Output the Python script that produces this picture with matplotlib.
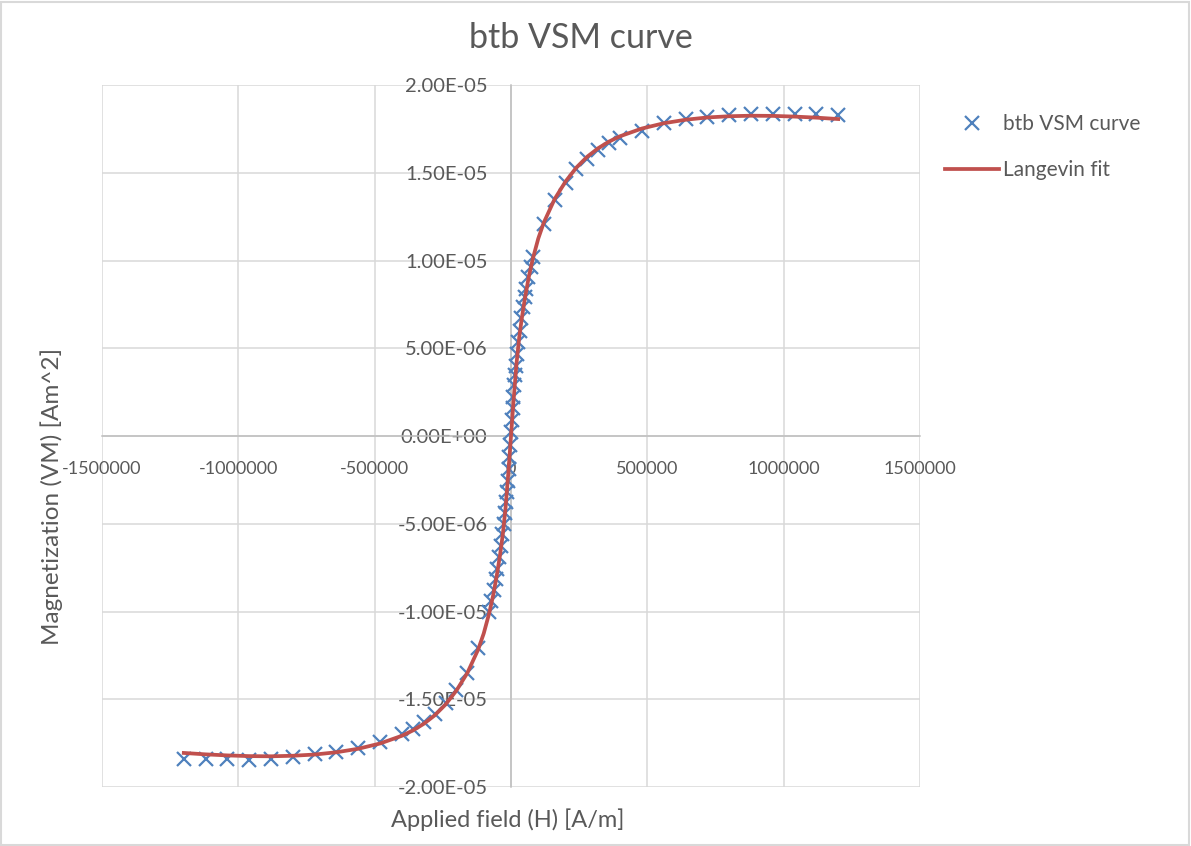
import matplotlib
matplotlib.use("Agg")
import matplotlib.pyplot as plt
from matplotlib.patches import Rectangle

plt.rcParams['font.family'] = ['Lato', 'DejaVu Sans']

# measured VSM points: applied field [A/m] and magnetization [Am^2]
field = [-1200000, -1120000, -1040000, -960000, -880000, -800000, -720000,
         -640000, -560000, -480000, -400000, -360000, -320000, -280000,
         -240000, -200000, -160000, -120000, -80000,
         -72000, -64000, -56000, -50000, -44000, -38000, -32000, -27000,
         -22000, -18000, -15000, -12000, -9000, -6000, -3000, 0,
         3000, 6000, 9000, 12000, 15000, 18000, 22000, 27000, 32000,
         38000, 44000, 50000, 56000, 64000, 72000,
         80000, 120000, 160000, 200000, 240000, 280000, 320000, 360000,
         400000, 480000, 560000, 640000, 720000, 800000, 880000, 960000,
         1040000, 1120000, 1200000]
moment = [-1.842e-5, -1.840e-5, -1.842e-5, -1.845e-5, -1.840e-5, -1.830e-5,
          -1.813e-5, -1.800e-5, -1.775e-5, -1.745e-5, -1.700e-5, -1.670e-5,
          -1.630e-5, -1.585e-5, -1.520e-5, -1.445e-5, -1.350e-5, -1.210e-5,
          -1.000e-5,
          -0.940e-5, -0.880e-5, -0.815e-5, -0.755e-5, -0.690e-5, -0.625e-5,
          -0.560e-5, -0.500e-5, -0.440e-5, -0.375e-5, -0.320e-5, -0.255e-5,
          -0.190e-5, -0.120e-5, -0.050e-5, 0.020e-5,
          0.090e-5, 0.160e-5, 0.225e-5, 0.290e-5, 0.350e-5, 0.400e-5,
          0.465e-5, 0.535e-5, 0.600e-5, 0.670e-5, 0.735e-5, 0.790e-5,
          0.840e-5, 0.905e-5, 0.965e-5,
          1.020e-5, 1.210e-5, 1.345e-5, 1.440e-5, 1.520e-5, 1.580e-5,
          1.630e-5, 1.670e-5, 1.700e-5, 1.740e-5, 1.785e-5, 1.805e-5,
          1.820e-5, 1.828e-5, 1.832e-5, 1.835e-5, 1.835e-5, 1.833e-5,
          1.830e-5]

# Langevin fit curve
fit_field = [-1200000, -1120000, -1040000, -960000, -880000, -800000,
             -720000, -640000, -560000, -480000, -400000, -360000, -320000,
             -280000, -240000, -200000, -160000, -120000, -100000, -80000,
             -65000, -50000, -40000, -30000, -20000, -10000, 0, 10000,
             20000, 30000, 40000, 50000, 65000, 80000, 100000, 120000,
             160000, 200000, 240000, 280000, 320000, 360000, 400000, 480000,
             560000, 640000, 720000, 800000, 880000, 960000, 1040000,
             1120000, 1200000]
fit_moment = [-1.806e-5, -1.814e-5, -1.820e-5, -1.824e-5, -1.825e-5,
              -1.822e-5, -1.815e-5, -1.802e-5, -1.782e-5, -1.752e-5,
              -1.708e-5, -1.678e-5, -1.640e-5, -1.592e-5, -1.530e-5,
              -1.450e-5, -1.350e-5, -1.215e-5, -1.125e-5, -1.010e-5,
              -0.905e-5, -0.775e-5, -0.675e-5, -0.560e-5, -0.410e-5,
              -0.215e-5, 0.0, 0.215e-5, 0.410e-5, 0.560e-5, 0.675e-5,
              0.775e-5, 0.905e-5, 1.010e-5, 1.125e-5, 1.215e-5,
              1.350e-5, 1.450e-5, 1.530e-5, 1.592e-5, 1.640e-5, 1.678e-5,
              1.708e-5, 1.752e-5, 1.782e-5, 1.802e-5, 1.815e-5, 1.822e-5,
              1.825e-5, 1.824e-5, 1.820e-5, 1.814e-5, 1.806e-5]

x_ticks = [-1500000, -1000000, -500000, 0, 500000, 1000000, 1500000]
y_ticks = [-2.0e-5, -1.5e-5, -1.0e-5, -5.0e-6, 0.0, 5.0e-6, 1.0e-5,
           1.5e-5, 2.0e-5]

text_col = '#595959'
grid_col = '#d9d9d9'

fig = plt.figure(figsize=(11.91, 8.46), dpi=100)
ax = fig.add_axes([102 / 1191, 59 / 846, 818 / 1191, 702 / 846])

ax.plot(field, moment, linestyle='none', marker='x', markersize=10,
        markeredgewidth=1.6, color='#4f81bd', label='btb VSM curve', zorder=3)
ax.plot(fit_field, fit_moment, color='#c0504d', linewidth=2.7,
        label='Langevin fit', zorder=4)

ax.set_xlim(-1500000, 1500000)
ax.set_ylim(-2.0e-5, 2.0e-5)
ax.set_xticks(x_ticks)
ax.set_yticks(y_ticks)
ax.set_xticklabels([str(v) for v in x_ticks])
ax.set_yticklabels(['%.2E' % v for v in y_ticks])
ax.grid(True, color=grid_col, linewidth=1.1, zorder=0)
ax.set_axisbelow(True)

# axes cross at the origin, Excel style
ax.spines['left'].set_position(('data', 0))
ax.spines['bottom'].set_position(('data', 0))
ax.spines['top'].set_visible(False)
ax.spines['right'].set_visible(False)
for s in ('left', 'bottom'):
    ax.spines[s].set_color('#bfbfbf')
    ax.spines[s].set_linewidth(1.1)
    ax.spines[s].set_zorder(1)
ax.tick_params(length=0, colors=text_col)
ax.tick_params(axis='x', labelsize=13, pad=18)
ax.tick_params(axis='y', labelsize=14.5, pad=17)
for lbl in ax.get_xticklabels() + ax.get_yticklabels():
    lbl.set_zorder(2)

fig.text(581 / 1191, 1 - 38 / 846, 'btb VSM curve', ha='center', va='center',
         fontsize=24.5, color=text_col)
fig.text(508 / 1191, 1 - 820 / 846, 'Applied field (H) [A/m]', ha='center',
         va='center', fontsize=17, color=text_col)
fig.text(52 / 1191, 1 - 496 / 846, 'Magnetization (VM) [Am^2]', ha='center',
         va='center', rotation=90, fontsize=17.5, color=text_col)

leg = ax.legend(loc='upper left', bbox_to_anchor=(1.008, 0.985), frameon=False,
                fontsize=15, labelcolor=text_col, handlelength=2.6,
                handletextpad=0.15, labelspacing=1.25)

# light frame round the whole chart
fig.patches.append(Rectangle((0.001, 0.001), 0.997, 0.997,
                             transform=fig.transFigure, fill=False,
                             edgecolor='#d9d9d9', linewidth=1.5))

fig.savefig('out.png', dpi=100)
